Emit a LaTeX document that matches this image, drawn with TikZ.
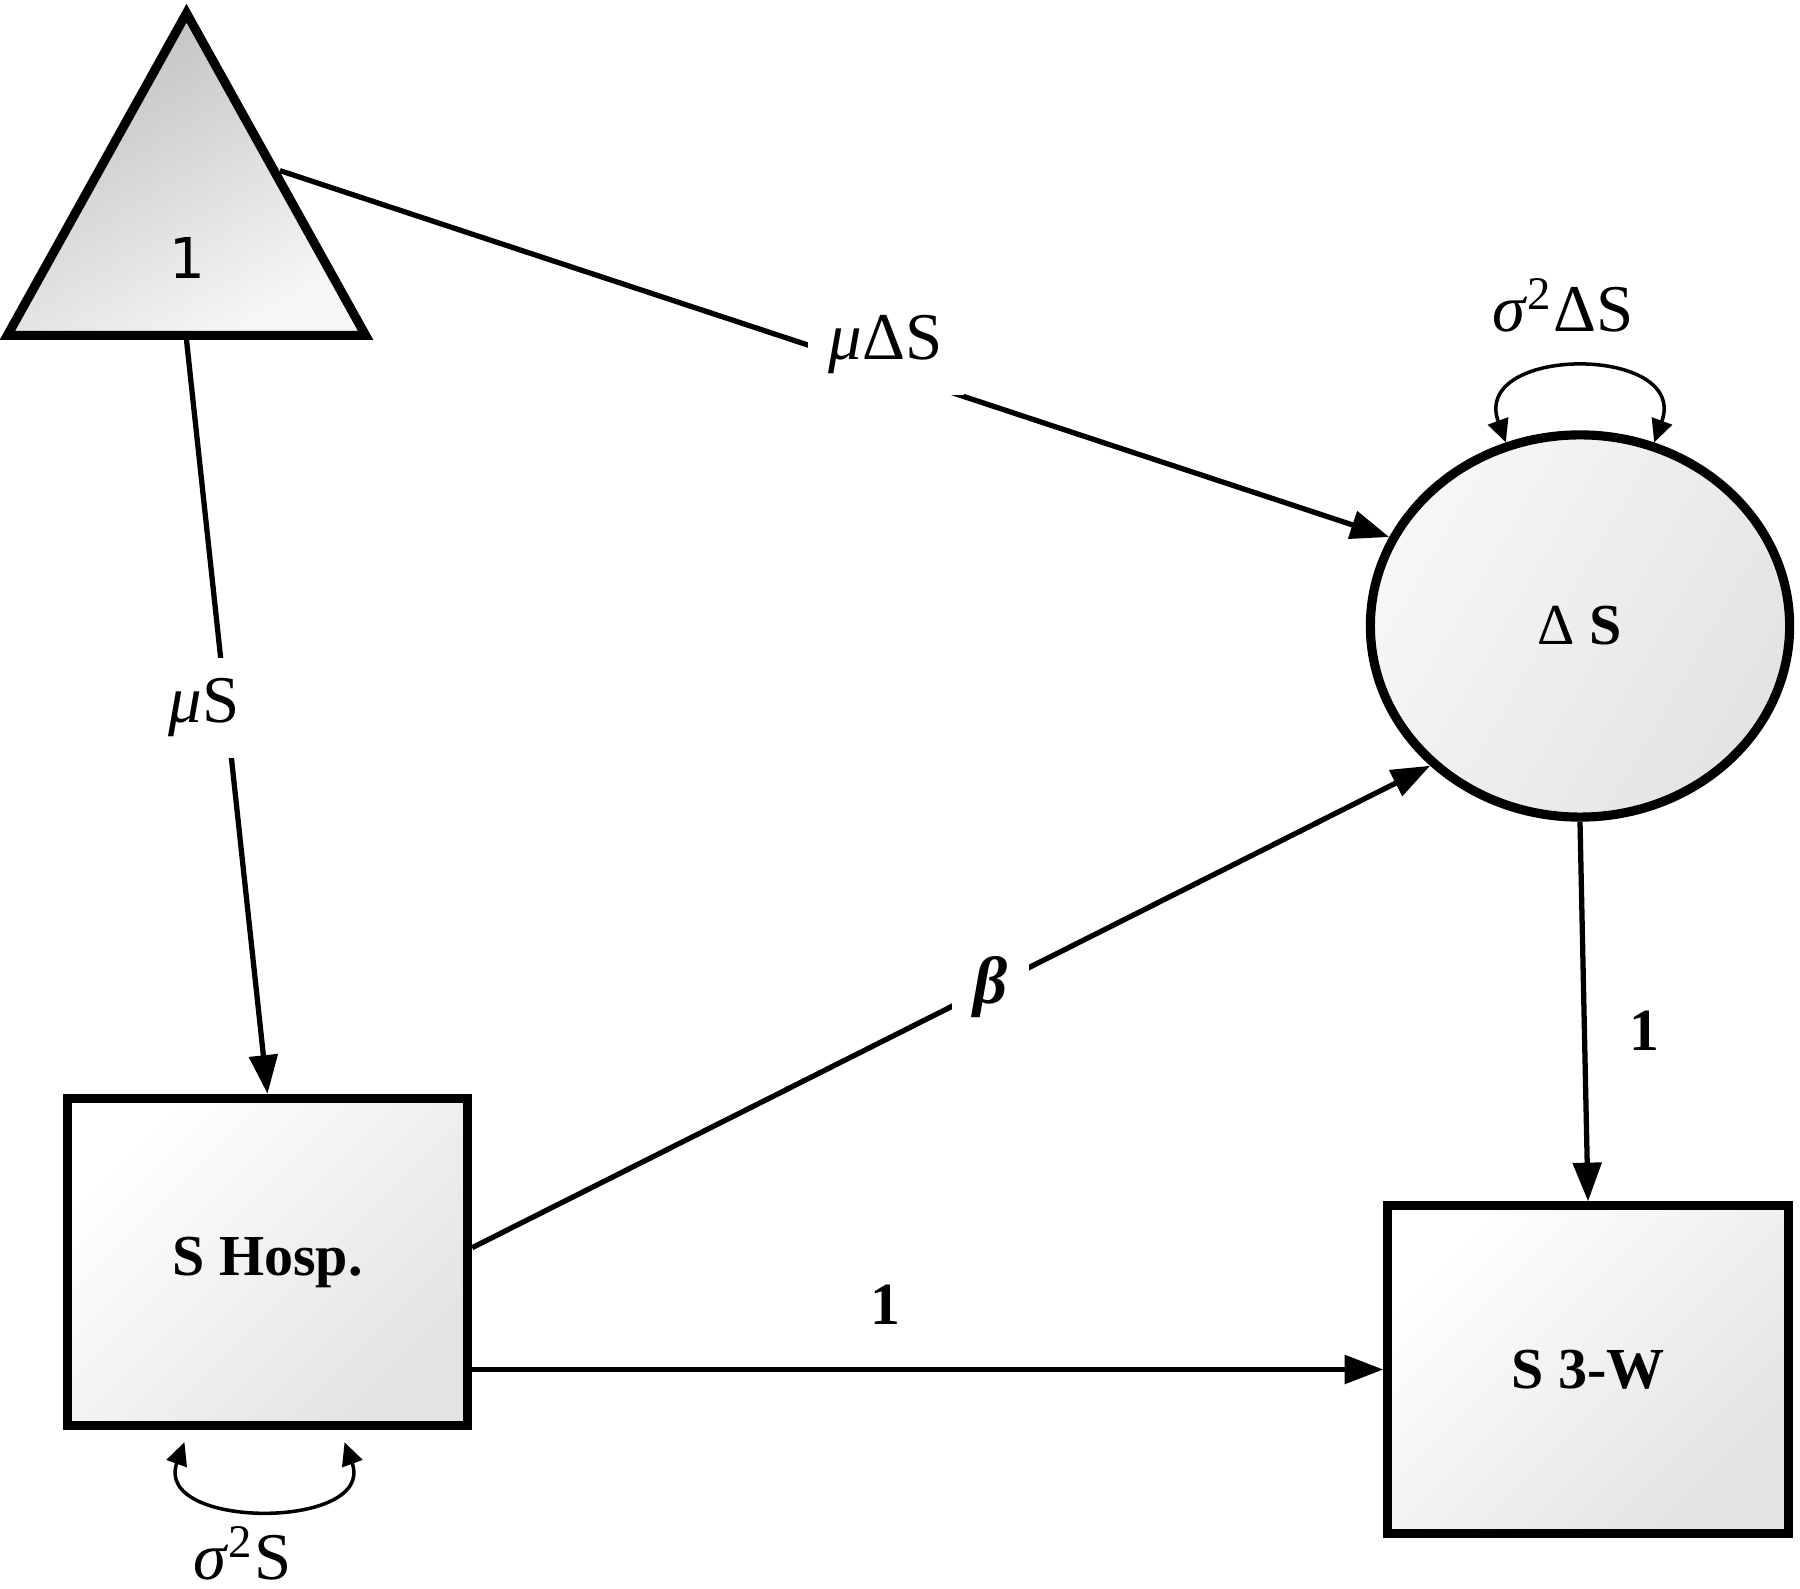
\documentclass[tikz,border=0pt]{standalone}
\usepackage{fontspec}
\setmainfont{Liberation Serif}
\newfontfamily\trifont{DejaVu Sans}
\usetikzlibrary{arrows.meta,shapes.geometric}

\begin{document}
\begin{tikzpicture}[
x=0.01cm, y=-0.01cm,
  obsbox/.style = {rectangle, draw, line width=2.6pt,% observed variables
                   minimum width=4.0cm, minimum height=3.27cm,
                   shading=axis, top color=white, bottom color=black!11,
                   shading angle=45, font=\fontsize{16.5}{18}\selectfont\bfseries},
  latent/.style = {ellipse, draw, line width=2.6pt,% latent change score
                   minimum width=4.19cm, minimum height=3.82cm,
                   shading=axis, top color=black!3, bottom color=black!11,
                   shading angle=60, font=\fontsize{16.5}{18}\selectfont},
   unitc/.style = {isosceles triangle, shape border rotate=90,% constant
                   isosceles triangle stretches, draw, line width=2.6pt,
                   minimum width=3.58cm, minimum height=3.22cm, inner sep=0pt,
                   shading=axis, top color=black!25, bottom color=black!3,
                   shading angle=30},
     arr/.style = {line width=1.5pt, -{Triangle[length=11pt,width=8pt]}},
  vararr/.style = {line width=1pt,
                   {Triangle[length=6.5pt,width=6pt]}-{Triangle[length=6.5pt,width=6pt]}},
     lab/.style = {fill=white, inner sep=6pt, font=\fontsize{19}{21}\selectfont},
  onelab/.style = {font=\fontsize{17}{19}\selectfont\bfseries},
                        ]
\useasboundingbox (0,0) rectangle (1800,1589);
% nodes
\node[unitc, anchor=south] (unit) at (186.5,340) {};
\node[font=\trifont\fontsize{16}{18}\selectfont] (unitlab) at (187,258) {1};
\node[latent] (ds) at (1580,626) {Δ \textbf{S}};
\node[obsbox] (hosp) at (267.5,1262) {S Hosp.};
\node[obsbox] (wk) at (1588,1369.5) {S 3-W};
% paths
\draw[arr] (unit.south) -- node[lab, pos=0.488, xshift=-0.22cm] {\textit{μ}S} (hosp.north);
\draw[arr] (unit.right side) -- node[lab, pos=0.546, yshift=0.26cm] {\textit{μ}ΔS} (ds.155);
\draw[arr] (hosp.4) -- node[lab, pos=0.541] {\textbf{\textit{β}}} (ds.223);
\draw[arr] (wk.west -| hosp.east) -- node[onelab, pos=0.454, yshift=0.65cm] {1} (wk.west);
\draw[arr] (ds.south) -- node[onelab, pos=0.551, xshift=0.6cm] {1} (wk.north);
% variances
\draw[vararr] (ds.112) to[out=110, in=70, looseness=1.8]
    node[lab, fill=none, pos=0.5, yshift=0.64cm, xshift=-0.17cm] {\textit{σ}\textsuperscript{2}ΔS} (ds.68);
\draw[vararr] ([xshift=-0.83cm, yshift=-0.12cm]hosp.south) to[out=-110, in=-70, looseness=1.5]
    node[lab, fill=none, pos=0.5, yshift=-0.45cm, xshift=-0.22cm] {\textit{σ}\textsuperscript{2}S}
    ([xshift=0.77cm, yshift=-0.12cm]hosp.south);
\end{tikzpicture}
\end{document}
